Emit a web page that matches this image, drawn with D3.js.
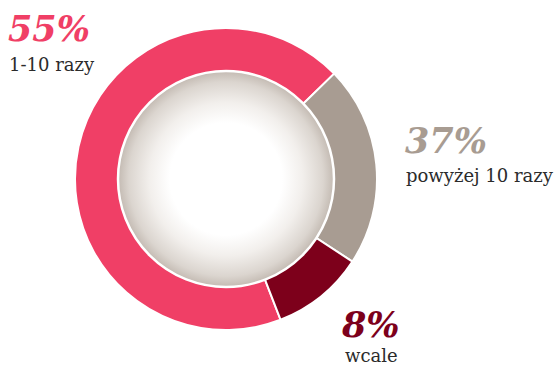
<!DOCTYPE html>
<html>
<head>
<meta charset="utf-8">
<script src="https://cdn.jsdelivr.net/npm/d3@7"></script>
<style>
  body { margin: 0; background: #fff; }
  svg { display: block; }
</style>
</head>
<body>
<div id="chart"></div>
<script>
// categories and values
var categories = ["1-10 razy", "powyżej 10 razy", "wcale"];
var percentLabels = ["55%", "37%", "8%"];
// arc sizes as drawn (they do not follow the printed percentages)
var arcShares = [68.6, 21.5, 9.9];
var colors = ["#f03f66", "#a89c92", "#7d001b"];

// label anchor spots: big number baseline, then the caption below it
var labelSpots = [[8, 41, 9, 71], [405, 153, 406, 182], [342, 337, 345, 362]];

var width = 558, height = 367;
var cx = 226, cy = 179, outerR = 151, innerR = 108;

var svg = d3.select("#chart")
  .append("svg")
  .attr("width", width)
  .attr("height", height);

var defs = svg.append("defs");
var grad = defs.append("radialGradient")
  .attr("id", "hole")
  .attr("cx", "50%").attr("cy", "50%").attr("r", "50%");
grad.append("stop").attr("offset", "0%").attr("stop-color", "#ffffff");
grad.append("stop").attr("offset", "52%").attr("stop-color", "#ffffff");
grad.append("stop").attr("offset", "71%").attr("stop-color", "#f2efec");
grad.append("stop").attr("offset", "90%").attr("stop-color", "#dbd5cf");
grad.append("stop").attr("offset", "100%").attr("stop-color", "#c3bab2");

var start = 158.8 * Math.PI / 180;
var pie = d3.pie()
  .sort(null)
  .startAngle(start)
  .endAngle(start + 2 * Math.PI);

var arc = d3.arc()
  .innerRadius(innerR - 2)
  .outerRadius(outerR);

var g = svg.append("g")
  .attr("transform", "translate(" + cx + "," + cy + ")");

g.selectAll("path.slice")
  .data(pie(arcShares))
  .enter()
  .append("path")
  .attr("class", "slice")
  .attr("d", arc)
  .attr("fill", function(d, i) { return colors[i]; })
  .attr("stroke", "#fff")
  .attr("stroke-width", 2);

// the shaded hole
g.append("circle")
  .attr("r", innerR)
  .attr("fill", "url(#hole)")
  .attr("stroke", "#fff")
  .attr("stroke-width", 2.5);

// labels
svg.selectAll("text.pct")
  .data(categories)
  .enter()
  .append("text")
  .attr("class", "pct")
  .attr("x", function(d, i) { return labelSpots[i][0]; })
  .attr("y", function(d, i) { return labelSpots[i][1]; })
  .attr("font-family", "DejaVu Serif")
  .attr("font-weight", "bold")
  .attr("font-style", "italic")
  .attr("font-size", 35)
  .attr("fill", function(d, i) { return colors[i]; })
  .text(function(d, i) { return percentLabels[i]; });

svg.selectAll("text.cat")
  .data(categories)
  .enter()
  .append("text")
  .attr("class", "cat")
  .attr("x", function(d, i) { return labelSpots[i][2]; })
  .attr("y", function(d, i) { return labelSpots[i][3]; })
  .attr("font-family", "DejaVu Serif")
  .attr("font-size", 18)
  .attr("fill", "#2b2b2b")
  .text(function(d) { return d; });
</script>
</body>
</html>
